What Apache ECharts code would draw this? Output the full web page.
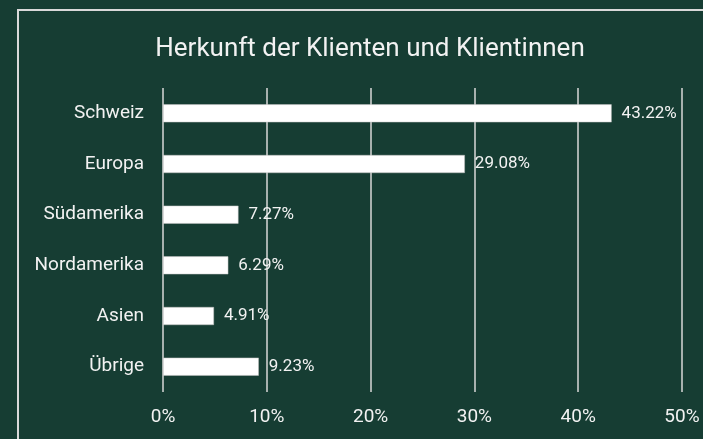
<!DOCTYPE html>
<html>
<head>
<meta charset="utf-8">
<script src="https://cdn.jsdelivr.net/npm/echarts@6/dist/echarts.min.js"></script>
<style>
  html, body { margin: 0; padding: 0; background: #163d33; }
  #chart { width: 703px; height: 439px; }
</style>
</head>
<body>
<div id="chart"></div>
<script>
const categories = ['Schweiz', 'Europa', 'Südamerika', 'Nordamerika', 'Asien', 'Übrige'];
const shares = [43.22, 29.08, 7.27, 6.29, 4.91, 9.23];
const xTicks = [0, 10, 20, 30, 40, 50];

const chart = echarts.init(document.getElementById('chart'));
const font = 'Roboto, "Noto Sans", sans-serif';

chart.setOption({
  backgroundColor: '#163d33',
  animation: false,
  title: {
    text: 'Herkunft der Klienten und Klientinnen',
    left: 365,
    top: 31,
    textAlign: 'center',
    textStyle: { color: '#f2f2f2', fontSize: 26, fontWeight: 'normal', fontFamily: font }
  },
  graphic: [{
    type: 'rect',
    shape: { x: 18, y: 10, width: 700, height: 440 },
    style: { fill: 'none', stroke: '#d9d9d9', lineWidth: 2 },
    silent: true
  }],
  grid: { left: 163, right: 21, top: 88, bottom: 47, containLabel: false },
  xAxis: {
    type: 'value',
    min: xTicks[0],
    max: xTicks[xTicks.length - 1],
    interval: 10,
    axisLine: { show: false },
    axisTick: { show: false },
    splitLine: { show: true, lineStyle: { color: '#d9d9d9', width: 1.5 } },
    axisLabel: { color: '#f2f2f2', fontSize: 19, fontFamily: font, margin: 16, formatter: '{value}%' }
  },
  yAxis: {
    type: 'category',
    data: categories,
    inverse: true,
    axisLine: { show: false },
    axisTick: { show: false },
    axisLabel: { color: '#f2f2f2', fontSize: 19, fontFamily: font, margin: 19 }
  },
  series: [{
    type: 'bar',
    data: shares,
    barWidth: 18,
    itemStyle: { color: '#ffffff', borderColor: '#bfbfbf', borderWidth: 0.5 },
    label: {
      show: true,
      position: 'right',
      distance: 10,
      color: '#f2f2f2',
      fontSize: 17,
      fontFamily: font,
      formatter: p => p.value.toFixed(2) + '%'
    }
  }]
});
</script>
</body>
</html>
